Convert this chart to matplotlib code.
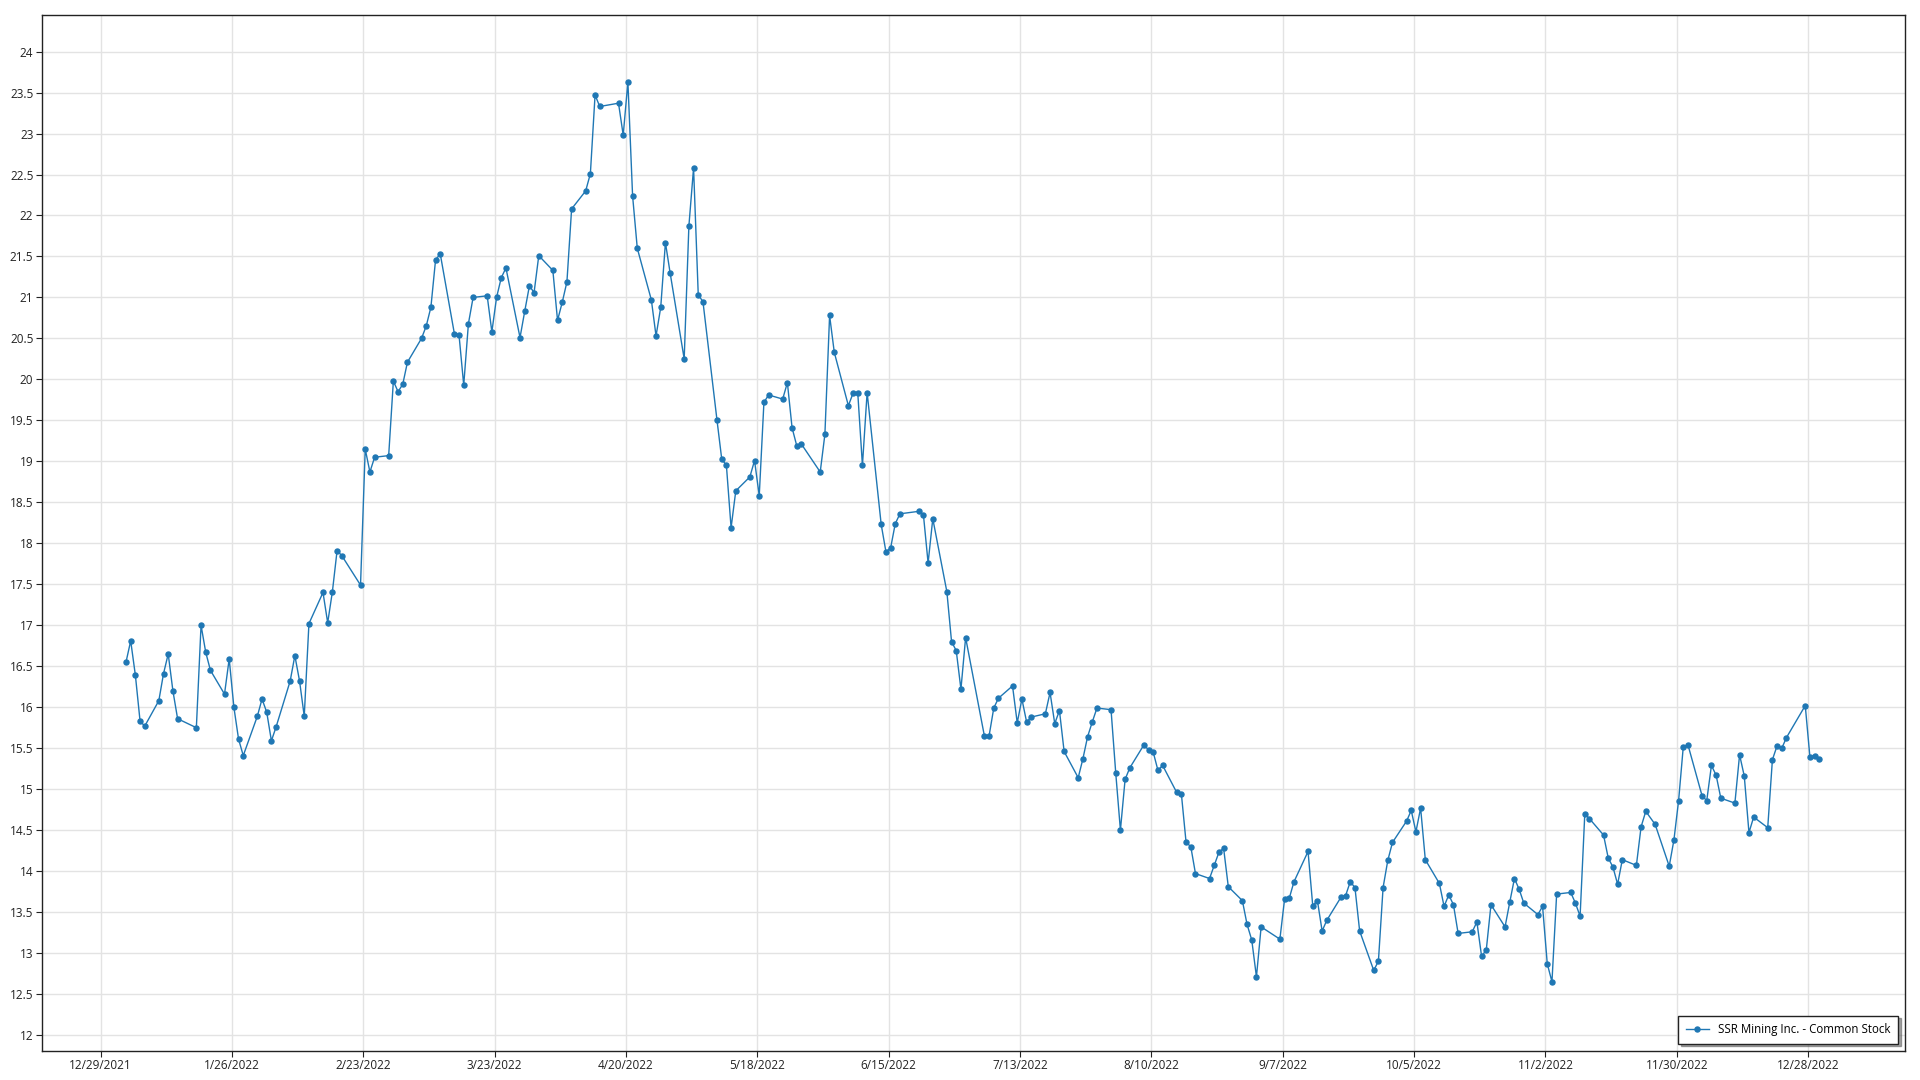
import numpy as np
import pandas as pd
import matplotlib
matplotlib.use("Agg")
import matplotlib.pyplot as plt
import matplotlib.dates as mdates
from matplotlib.ticker import FuncFormatter

# --- DATA ---
# NYSE holidays 2022 (no trading)
HOLIDAYS = ["2022-01-17", "2022-02-21", "2022-04-15", "2022-05-30", "2022-06-20",
            "2022-07-04", "2022-09-05", "2022-11-24", "2022-12-26"]

PRICES_JAN = [16.55, 16.81, 16.39, 15.83, 15.77, 16.08, 16.41, 16.65, 16.20, 15.86,
              15.75, 17.00, 16.67, 16.45, 16.16, 16.59, 16.00, 15.61, 15.41, 15.89]
PRICES_FEB = [16.10, 15.94, 15.59, 15.76, 16.32, 16.63, 16.32, 15.89, 17.02, 17.40,
              17.03, 17.41, 17.91, 17.85, 17.49, 19.15, 18.87, 19.05, 19.07]
PRICES_MAR = [19.98, 19.85, 19.94, 20.21, 20.50, 20.65, 20.88, 21.46, 21.53, 20.56,
              20.54, 19.93, 20.68, 21.00, 21.02, 20.58, 21.00, 21.24, 21.36, 20.51,
              20.83, 21.14, 21.06]
PRICES_APR = [21.51, 21.33, 20.72, 20.94, 21.19, 22.08, 22.30, 22.51, 23.47, 23.33,
              23.37, 22.98, 23.63, 22.24, 21.60, 20.97, 20.53, 20.88, 21.67, 21.30]
PRICES_MAY = [20.25, 21.87, 22.58, 21.03, 20.95, 19.50, 19.03, 18.95, 18.19, 18.64,
              18.81, 19.01, 18.58, 19.72, 19.81, 19.76, 19.96, 19.41, 19.19, 19.21,
              18.87]
PRICES_JUN = [19.33, 20.78, 20.33, 19.68, 19.83, 19.84, 18.95, 19.84, 18.23, 17.90,
              17.94, 18.24, 18.36, 18.39, 18.35, 17.76, 18.30, 17.41, 16.80, 16.69,
              16.22]
PRICES_JUL = [16.85, 15.65, 15.65, 15.99, 16.11, 16.26, 15.81, 16.10, 15.82, 15.88,
              15.92, 16.18, 15.80, 15.96, 15.46, 15.14, 15.37, 15.64, 15.82, 15.99]
PRICES_AUG = [15.97, 15.20, 14.50, 15.12, 15.26, 15.54, 15.48, 15.45, 15.23, 15.29,
              14.96, 14.94, 14.35, 14.30, 13.97, 13.91, 14.07, 14.23, 14.28, 13.81,
              13.64, 13.35, 13.16]
PRICES_SEP = [12.71, 13.32, 13.17, 13.66, 13.67, 13.87, 14.24, 13.58, 13.64, 13.27,
              13.40, 13.68, 13.70, 13.87, 13.80, 13.27, 12.79, 12.90, 13.80, 14.13,
              14.35]
PRICES_OCT = [14.61, 14.74, 14.48, 14.77, 14.14, 13.85, 13.57, 13.71, 13.59, 13.24,
              13.26, 13.38, 12.96, 13.04, 13.59, 13.32, 13.62, 13.91, 13.78, 13.61,
              13.47]
PRICES_NOV = [13.57, 12.87, 12.65, 13.72, 13.74, 13.61, 13.45, 14.70, 14.64, 14.44,
              14.16, 14.05, 13.84, 14.14, 14.07, 14.54, 14.73, 14.57, 14.06, 14.38,
              14.86]
PRICES_DEC = [15.52, 15.54, 14.92, 14.86, 15.29, 15.17, 14.89, 14.83, 15.42, 15.16,
              14.47, 14.66, 14.53, 15.36, 15.53, 15.50, 15.63, 16.02, 15.39, 15.41,
              15.37]

SERIES_NAME = "SSR Mining Inc. - Common Stock"

prices = (PRICES_JAN + PRICES_FEB + PRICES_MAR + PRICES_APR + PRICES_MAY + PRICES_JUN
          + PRICES_JUL + PRICES_AUG + PRICES_SEP + PRICES_OCT + PRICES_NOV + PRICES_DEC)
# trading days, quotes stamped at the 9:30 open
dates = pd.bdate_range("2022-01-03", "2022-12-30", freq="C", holidays=HOLIDAYS)
dates = dates + pd.Timedelta(hours=9, minutes=30)

x_ticks = pd.date_range("2021-12-29", "2022-12-28", freq="28D")
y_ticks = np.arange(12, 24.01, 0.5)

# --- PLOT ---
plt.rcParams["font.family"] = ["Open Sans", "DejaVu Sans"]

fig = plt.figure(figsize=(19.2, 10.8), dpi=100)
ax = fig.add_axes([0.0217, 0.0272, 0.9705, 0.9592])

ax.plot(dates, prices, color="#1f77b4", lw=1.0, marker="o", markersize=3.6,
        label=SERIES_NAME)

ax.set_xlim(pd.Timestamp("2021-12-16 10:00"), pd.Timestamp("2023-01-17 16:00"))
ax.set_ylim(11.81, 24.45)

ax.set_xticks(x_ticks)
ax.xaxis.set_major_formatter(FuncFormatter(
    lambda v, pos: (lambda d: f"{d.month}/{d.day}/{d.year}")(mdates.num2date(v))))
ax.set_yticks(y_ticks)
ax.yaxis.set_major_formatter(FuncFormatter(lambda v, pos: f"{v:g}"))

ax.grid(True, color="#e3e3e3", lw=1.0)
ax.set_axisbelow(True)
ax.tick_params(labelsize=8.5, length=4, width=0.8, colors="#222222", pad=2)
for s in ax.spines.values():
    s.set_color("#222222")
    s.set_linewidth(1.0)

leg = ax.legend(loc="lower right", fontsize=8.3, fancybox=False, shadow=True,
                edgecolor="#222222", borderaxespad=0.6, framealpha=1.0,
                borderpad=0.65, handlelength=2.0)
leg.get_frame().set_linewidth(1.0)

fig.savefig("out.png", dpi=100)
